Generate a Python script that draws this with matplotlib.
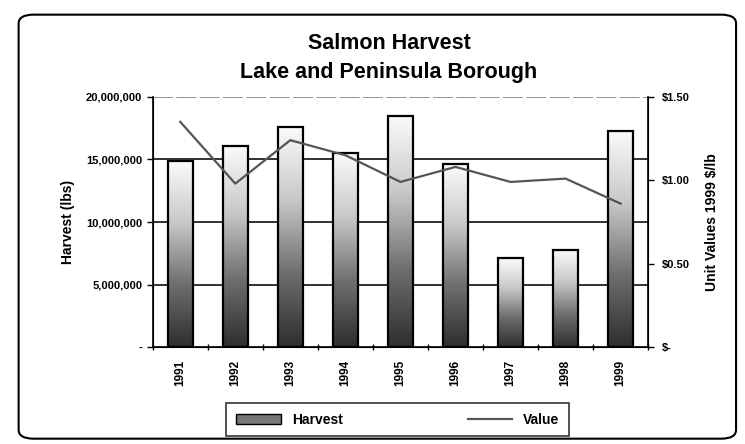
import matplotlib
matplotlib.use("Agg")
from matplotlib import pyplot as plt
from matplotlib.patches import FancyBboxPatch, Rectangle
from matplotlib.colors import LinearSegmentedColormap
from matplotlib.ticker import FuncFormatter
import numpy as np

plt.rcParams['font.family'] = ['Liberation Sans', 'DejaVu Sans']

# Salmon harvest data
years = ["1991", "1992", "1993", "1994", "1995", "1996", "1997", "1998", "1999"]
harvest = [14900000, 16100000, 17600000, 15500000, 18500000, 14600000, 7100000, 7800000, 17300000]
unit_value = [1.35, 0.98, 1.24, 1.15, 0.99, 1.08, 0.99, 1.01, 0.86]

fig = plt.figure(figsize=(7.45, 4.44), dpi=100)
ax = fig.add_axes([0.205, 0.218, 0.665, 0.564])
ax2 = ax.twinx()

# outer rounded frame
frame = FancyBboxPatch((0.025, 0.012), 0.963, 0.955, boxstyle="round,pad=0,rounding_size=0.02",
                       transform=fig.transFigure, fill=False, edgecolor="black", linewidth=1.5)
fig.patches.append(frame)

x = np.arange(len(years))
bars = ax.bar(x, harvest, width=0.45, color="none", edgecolor="black", linewidth=1.6, zorder=3)

# grey gradient inside each bar, light at top, dark at bottom
cmap = LinearSegmentedColormap.from_list("grad", ["#2e2e2e", "#6e6e6e", "#c8c8c8", "#fbfbfb"])
grad = np.linspace(0, 1, 256).reshape(-1, 1)
for b in bars:
    x0, w, h = b.get_x(), b.get_width(), b.get_height()
    im = ax.imshow(grad, cmap=cmap, origin="lower", aspect="auto",
                   extent=[x0, x0 + w, 0, h], zorder=2)
    im.set_clip_path(b)

ax.set_xlim(-0.5, len(years) - 0.5)
ax.set_ylim(0, 20000000)
ax.set_yticks([0, 5000000, 10000000, 15000000, 20000000])
ax.yaxis.set_major_formatter(FuncFormatter(lambda v, p: "-" if v == 0 else f"{int(v):,}"))
for yv in [5000000, 10000000, 15000000]:
    ax.axhline(yv, color="#222222", linewidth=1.3, zorder=1)
ax.axhline(20000000, color="#808080", linewidth=1.2, linestyle=(0, (12, 2)), zorder=1)
ax.set_xticks(x)
ax.set_xticklabels(years, rotation=90, fontsize=8.5, fontweight="bold")
ax.set_xticks(np.arange(-0.5, len(years), 1), minor=True)
ax.tick_params(axis="x", which="major", length=0, pad=9)
ax.tick_params(axis="x", which="minor", length=5, direction="inout", width=1)
ax.tick_params(axis="y", labelsize=8, length=4, width=1)
for lbl in ax.get_yticklabels():
    lbl.set_fontweight("bold")
ax.set_ylabel("Harvest (lbs)", fontsize=10, fontweight="bold", labelpad=8)
ax.spines["top"].set_visible(False)
ax.spines["left"].set_linewidth(1.2)
ax.spines["bottom"].set_linewidth(1.2)
ax.spines["right"].set_linewidth(1.2)

ax2.plot(x, unit_value, color="#555555", linewidth=1.6, zorder=4)
ax2.set_ylim(0, 1.5)
ax2.set_yticks([0, 0.5, 1.0, 1.5])
ax2.set_yticklabels(["$-", "$0.50", "$1.00", "$1.50"], fontsize=8, fontweight="bold")
ax2.tick_params(axis="y", length=4, width=1, pad=6)
ax2.set_ylabel("Unit Values 1999 $/lb", fontsize=10, fontweight="bold", labelpad=11)
ax2.spines["top"].set_visible(False)

fig.text(0.522, 0.903, "Salmon Harvest", ha="center", va="center", fontsize=15.5, fontweight="bold")
fig.text(0.522, 0.836, "Lake and Peninsula Borough", ha="center", va="center", fontsize=15.5, fontweight="bold")

# legend
h_patch = Rectangle((0, 0), 1, 1, facecolor="#777777", edgecolor="black")
line, = ax2.plot([], [], color="#555555", linewidth=1.6)
leg = fig.legend([h_patch, line], ["Harvest", "Value"], loc="center", bbox_to_anchor=(0.534, 0.055),
                 ncol=2, frameon=True, fancybox=False, edgecolor="black",
                 prop={"weight": "bold", "size": 10}, columnspacing=9, handlelength=3.2,
                 borderpad=0.7, borderaxespad=0)
leg.get_frame().set_linewidth(1.2)

fig.savefig("out.png", dpi=100)
